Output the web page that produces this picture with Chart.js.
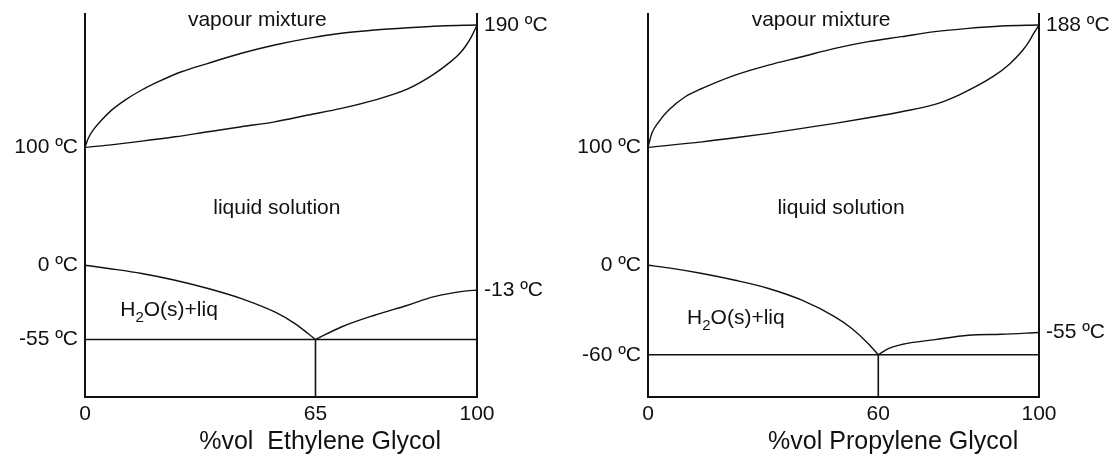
<!DOCTYPE html>
<html lang="en">
<head>
<meta charset="utf-8">
<title>Diagramas de fase - glicóis</title>
<script src="https://cdn.jsdelivr.net/npm/chart.js@4.4.1/dist/chart.umd.min.js"></script>
<style>
  html, body { margin: 0; padding: 0; background: #fff; }
  body { width: 1117px; height: 461px; position: relative; overflow: hidden; }
  canvas { position: absolute; top: 0; }
  #graficoEtileno { left: 0; }
  #graficoPropileno { left: 560px; }
</style>
</head>
<body>
<canvas id="graficoEtileno" width="560" height="461"></canvas>
<canvas id="graficoPropileno" width="557" height="461"></canvas>
<script>
const ticksXEtileno = [0, 65, 100];
const ticksTempEtilenoEsq = [100, 0, -55];
const ticksTempEtilenoDir = [190, -13];
// [%vol, ºC]
const vaporEtileno = [[0, 100], [0.9, 106.6], [2.3, 112.7], [4.7, 120.1], [7.5, 127.4], [11.3, 134.8], [16, 142.2], [20.7, 148.3], [27.2, 155.6], [34.7, 161.8], [44.1, 169.2], [53.5, 175.3], [62.9, 180.2], [70.6, 183.9], [77.8, 186.3], [85, 188], [92, 189.3], [100, 190]];
const liquidoEtileno = [[0, 100], [6.6, 101.7], [16, 104.6], [25.4, 107.8], [34.7, 111.5], [44.1, 115.2], [53.5, 118.8], [62.9, 123.8], [70.6, 128.7], [77.8, 134.8], [85, 143], [90.5, 153.5], [94.1, 162.5], [96.3, 169.2], [97.7, 175.3], [98.8, 181.4], [100, 190]];
const geloEtileno = [[0, 0], [6.6, -1.7], [16, -4.3], [25.4, -7.8], [34.7, -12.1], [44.1, -20.1], [53.5, -31.5], [59.2, -41.4], [62.9, -49.9], [65, -55]];
const glicolEtileno = [[65, -55], [70.6, -44.3], [77.8, -34.3], [85, -25.8], [90.5, -18.7], [97.7, -13.6], [100, -13]];
const eutHorizEtileno = [[0, -55], [100, -55]];
const eutVertEtileno = [[65, -55], [65, -80]];

const ticksXPropileno = [0, 60, 100];
const ticksTempPropilenoEsq = [100, 0, -60];
const ticksTempPropilenoDir = [188, -55];
const vaporPropileno = [[0, 100], [1, 110.1], [2.8, 118.4], [5.4, 126.8], [9.7, 136.4], [14.1, 142.4], [22.7, 152], [31.4, 159.2], [40.1, 165.2], [48.7, 171.2], [57.4, 176], [65.8, 179.6], [74.1, 183.2], [82.4, 185.6], [90.7, 187.3], [100, 188]];
const liquidoPropileno = [[0, 100], [14.1, 104], [22.7, 106.9], [31.4, 110.1], [40.1, 113.7], [48.7, 117.3], [57.4, 121.3], [65.8, 125.6], [74.1, 130.9], [80.3, 138], [88.6, 151], [92.7, 160], [96, 170], [97.7, 177], [98.9, 183], [100, 188]];
const geloPropileno = [[0, 0], [5.4, -2.2], [14.1, -6.8], [22.7, -12.3], [31.4, -19], [40.1, -28.6], [48.7, -42.2], [53.1, -51.7], [57.4, -57.5], [60, -60]];
const glicolPropileno = [[60, -60], [62.5, -58.6], [65.8, -57.7], [74.1, -56.6], [82.4, -55.6], [90.7, -55.4], [100, -55]];
const eutHorizPropileno = [[0, -60], [100, -60]];
const eutVertPropileno = [[60, -60], [60, -80]];

const FONTE = '"Liberation Sans", Arial, sans-serif';
const COR = "#111";

// o desenho original é esquemático: eixo linear por trechos
const EscalaLinear = Chart.registry.getScale("linear");

class EscalaEsquematica extends EscalaLinear {
  static id = "esquematica";

  fracao(valor) {
    const p = this.options.pontos;
    if (valor <= p[0][0]) return p[0][1];
    for (let i = 1; i < p.length; i++) {
      if (valor <= p[i][0]) {
        const [v0, f0] = p[i - 1];
        const [v1, f1] = p[i];
        return f0 + ((valor - v0) / (v1 - v0)) * (f1 - f0);
      }
    }
    return p[p.length - 1][1];
  }

  getPixelForValue(valor) {
    return this.getPixelForDecimal(this.fracao(valor));
  }

  getValueForPixel(pixel) {
    const f = this.getDecimalForPixel(pixel);
    const p = this.options.pontos;
    for (let i = 1; i < p.length; i++) {
      if (f <= p[i][1]) {
        const [v0, f0] = p[i - 1];
        const [v1, f1] = p[i];
        return v0 + ((f - f0) / (f1 - f0)) * (v1 - v0);
      }
    }
    return p[p.length - 1][0];
  }
}

Chart.register(EscalaEsquematica);

function serie(pontos, curva) {
  return {
    data: pontos.map(([x, y]) => ({ x, y })),
    borderColor: COR,
    borderWidth: curva ? 1.4 : 1.6,
    pointRadius: 0,
    fill: false,
    cubicInterpolationMode: curva ? "monotone" : "default",
    xAxisID: "x",
    yAxisID: "y",
  };
}

function eixoTemp(posicao, valores, pontos, min, max, largura) {
  return {
    type: "esquematica",
    position: posicao,
    min,
    max,
    bounds: "data",
    pontos,
    grid: { display: false, drawTicks: false },
    border: { display: true, color: COR, width: 2 },
    ticks: {
      color: COR,
      font: { family: FONTE, size: 21 },
      padding: 7,
      autoSkip: false,
      callback: (v) => v + " ºC",
    },
    afterBuildTicks: (escala) => {
      escala.ticks = valores.map((v) => ({ value: v }));
    },
    afterFit: (escala) => {
      escala.width = largura;
      escala.paddingTop = 0;
      escala.paddingBottom = 0;
    },
  };
}

// textos das regiões, subscrito opcional
function pluginTextos(rotulos, titulo) {
  return {
    id: "textosRegioes",
    afterDatasetsDraw(chart) {
      const { ctx, scales } = chart;
      ctx.save();
      ctx.fillStyle = COR;
      ctx.textBaseline = "middle";
      ctx.textAlign = "left";

      rotulos.forEach((r) => {
        const px = scales.x.getPixelForValue(r.x);
        const py = scales.y.getPixelForValue(r.y);
        const partes = r.partes;
        let total = 0;
        partes.forEach(([txt, sub]) => {
          ctx.font = (sub ? 15 : 21) + "px " + FONTE;
          total += ctx.measureText(txt).width;
        });
        let x = px - total / 2;
        partes.forEach(([txt, sub]) => {
          ctx.font = (sub ? 15 : 21) + "px " + FONTE;
          ctx.fillText(txt, x, sub ? py + 8 : py);
          x += ctx.measureText(txt).width;
        });
      });

      ctx.font = "25px " + FONTE;
      ctx.textAlign = "center";
      ctx.fillText(titulo.texto, scales.x.getPixelForValue(titulo.x), chart.chartArea.bottom + 45);
      ctx.restore();
    },
  };
}

function criarDiagrama(id, cfg) {
  const ctx = document.getElementById(id);
  return new Chart(ctx, {
    type: "line",
    data: {
      datasets: [
        serie(cfg.vapor, true),
        serie(cfg.liquido, true),
        serie(cfg.gelo, true),
        serie(cfg.glicol, true),
        serie(cfg.eutHoriz, false),
        serie(cfg.eutVert, false),
      ],
    },
    options: {
      responsive: false,
      animation: false,
      devicePixelRatio: 1,
      layout: { padding: { top: 14, left: 0, right: 0, bottom: 0 } },
      plugins: {
        legend: { display: false },
        tooltip: { enabled: false },
      },
      scales: {
        x: {
          type: "esquematica",
          position: "bottom",
          min: 0,
          max: 100,
          bounds: "data",
          pontos: cfg.pontosX,
          grid: { display: false, drawTicks: false },
          border: { display: true, color: COR, width: 2 },
          ticks: {
            color: COR,
            font: { family: FONTE, size: 21 },
            padding: 5,
            autoSkip: false,
            maxRotation: 0,
            callback: (v) => String(v),
          },
          afterBuildTicks: (escala) => {
            escala.ticks = cfg.ticksX.map((v) => ({ value: v }));
          },
          afterFit: (escala) => {
            escala.height = 64;
          },
        },
        y: eixoTemp("left", cfg.ticksEsq, cfg.pontosY, -80, cfg.topo, cfg.larguraEsq),
        y2: eixoTemp("right", cfg.ticksDir, cfg.pontosY, -80, cfg.topo, cfg.larguraDir),
      },
    },
    plugins: [pluginTextos(cfg.rotulos, cfg.titulo)],
  });
}

criarDiagrama("graficoEtileno", {
  vapor: vaporEtileno,
  liquido: liquidoEtileno,
  gelo: geloEtileno,
  glicol: glicolEtileno,
  eutHoriz: eutHorizEtileno,
  eutVert: eutVertEtileno,
  ticksX: ticksXEtileno,
  ticksEsq: ticksTempEtilenoEsq,
  ticksDir: ticksTempEtilenoDir,
  topo: 198,
  pontosX: [[0, 0], [65, 0.588], [100, 1]],
  pontosY: [[-80, 0], [-55, 0.15], [-13, 0.2788], [0, 0.3441], [100, 0.6517], [190, 0.9713], [198, 1]],
  larguraEsq: 85,
  larguraDir: 83,
  rotulos: [
    { x: 48.6, y: 193.7, partes: [["vapour mixture", false]] },
    { x: 54.1, y: 48.4, partes: [["liquid solution", false]] },
    { x: 23.7, y: -30, partes: [["H", false], ["2", true], ["O(s)+liq", false]] },
  ],
  titulo: { texto: "%vol  Ethylene Glycol", x: 66 },
});

criarDiagrama("graficoPropileno", {
  vapor: vaporPropileno,
  liquido: liquidoPropileno,
  gelo: geloPropileno,
  glicol: glicolPropileno,
  eutHoriz: eutHorizPropileno,
  eutVert: eutVertPropileno,
  ticksX: ticksXPropileno,
  ticksEsq: ticksTempPropilenoEsq,
  ticksDir: ticksTempPropilenoDir,
  topo: 196,
  pontosX: [[0, 0], [60, 0.589], [100, 1]],
  pontosY: [[-80, 0], [-60, 0.1103], [-55, 0.1683], [0, 0.3441], [100, 0.6517], [188, 0.9713], [196, 1]],
  larguraEsq: 88,
  larguraDir: 78,
  rotulos: [
    { x: 45.1, y: 191.6, partes: [["vapour mixture", false]] },
    { x: 50.3, y: 48.4, partes: [["liquid solution", false]] },
    { x: 22.9, y: -43.3, partes: [["H", false], ["2", true], ["O(s)+liq", false]] },
  ],
  titulo: { texto: "%vol Propylene Glycol", x: 63.7 },
});
</script>
</body>
</html>
